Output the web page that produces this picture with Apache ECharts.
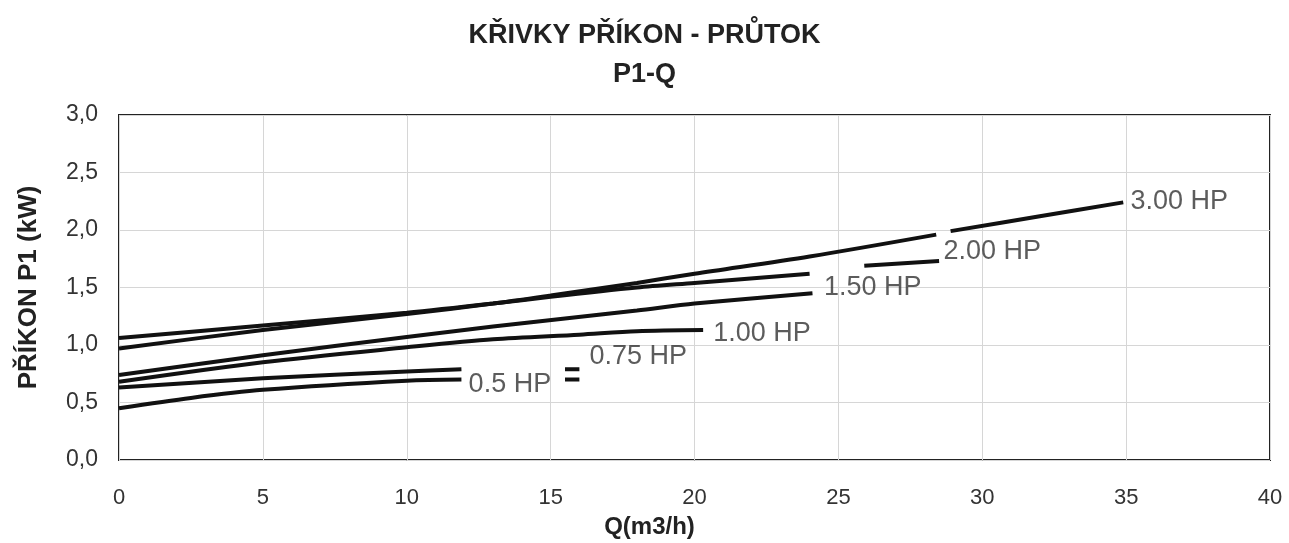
<!DOCTYPE html>
<html>
<head>
<meta charset="utf-8">
<title>P1-Q</title>
<script src="https://cdn.jsdelivr.net/npm/echarts@6/dist/echarts.min.js"></script>
<style>
  html, body { margin: 0; padding: 0; background: #fff; }
  #chart { width: 1289px; height: 543px; }
</style>
</head>
<body>
<div id="chart"></div>
<script>
// curves: [Q m3/h, P1 kW], '-' = gap behind a label
const hp300 = [[0, 0.97], [5, 1.13], [10, 1.27], [13, 1.36], [15, 1.43], [18, 1.54], [20, 1.62], [24, 1.77], [28.4, 1.96], [28.6, '-'], [28.9, 1.99], [32, 2.12], [34.9, 2.24]];
const hp200 = [[0, 1.06], [5, 1.17], [10, 1.28], [13, 1.36], [15, 1.42], [18, 1.50], [20, 1.54], [24, 1.62], [25, '-'], [25.9, 1.69], [28.5, 1.73]];
const hp150 = [[0, 0.74], [5, 0.91], [10, 1.07], [13, 1.16], [18, 1.30], [20, 1.36], [24.1, 1.45]];
const hp100 = [[0, 0.68], [5, 0.85], [10, 0.98], [13, 1.05], [16, 1.09], [18, 1.12], [20.3, 1.13]];
const hp075 = [[0, 0.63], [5, 0.71], [10, 0.77], [11.9, 0.79], [13, '-'], [15.5, 0.79], [16, 0.79]];
const hp050 = [[0, 0.45], [2.5, 0.54], [5, 0.61], [10, 0.69], [11.9, 0.70], [13, '-'], [15.5, 0.70], [16, 0.70]];

// curve labels
const labelText = ['3.00 HP', '2.00 HP', '1.50 HP', '1.00 HP', '0.75 HP', '0.5 HP'];
const labelQ = [35.15, 28.65, 24.5, 20.65, 16.35, 12.15];
const labelP = [2.25, 1.81, 1.50, 1.10, 0.90, 0.66];

const titleMain = 'KŘIVKY PŘÍKON - PRŮTOK';
const titleSub = 'P1-Q';
const xName = 'Q(m3/h)';
const yName = 'PŘÍKON P1 (kW)';

const chart = echarts.init(document.getElementById('chart'));

const curve = (name, data) => ({
  name: name,
  type: 'line',
  data: data,
  smooth: 0.3,
  showSymbol: false,
  connectNulls: false,
  lineStyle: { color: '#111', width: 4 },
  z: 3
});

const font = "'Liberation Sans', Arial, sans-serif";

chart.setOption({
  animation: false,
  backgroundColor: '#fff',
  title: [
    { text: titleMain, left: 'center', top: 17, textStyle: { fontFamily: font, fontSize: 27, fontWeight: 'bold', color: '#222' } },
    { text: titleSub, left: 'center', top: 56, textStyle: { fontFamily: font, fontSize: 27, fontWeight: 'bold', color: '#222' } }
  ],
  grid: {
    left: 119, right: 19, top: 115, bottom: 83,
    outerBoundsMode: 'none',
    show: true, borderColor: '#222', borderWidth: 2
  },
  xAxis: {
    type: 'value',
    min: 0, max: 40, interval: 5,
    name: xName,
    nameLocation: 'middle',
    nameGap: 55,
    nameTextStyle: { fontFamily: font, fontSize: 24, fontWeight: 'bold', color: '#222', padding: [0, 90, 0, 0] },
    axisLine: { show: false },
    axisTick: { show: false },
    axisLabel: { margin: 27, fontFamily: font, fontSize: 22, color: '#333' },
    splitLine: { show: true, lineStyle: { color: '#d6d6d6', width: 1 } }
  },
  yAxis: {
    type: 'value',
    min: 0, max: 3, interval: 0.5,
    name: yName,
    nameLocation: 'middle',
    nameGap: 77,
    nameTextStyle: { fontFamily: font, fontSize: 26, fontWeight: 'bold', color: '#222' },
    axisLine: { show: false },
    axisTick: { show: false },
    axisLabel: {
      margin: 21,
      fontFamily: font, fontSize: 23, color: '#333',
      formatter: v => v.toFixed(1).replace('.', ',')
    },
    splitLine: { show: true, lineStyle: { color: '#d6d6d6', width: 1 } }
  },
  series: [
    curve('3.00 HP', hp300),
    curve('2.00 HP', hp200),
    curve('1.50 HP', hp150),
    curve('1.00 HP', hp100),
    curve('0.75 HP', hp075),
    curve('0.5 HP', hp050),
    {
      name: 'labels',
      type: 'scatter',
      symbolSize: 0,
      silent: true,
      data: labelText.map((t, i) => ({ value: [labelQ[i], labelP[i]], name: t })),
      label: {
        show: true,
        position: 'right',
        distance: 0,
        formatter: p => p.name,
        fontFamily: font,
        fontSize: 27,
        color: '#333'
      },
      z: 4
    }
  ]
});
</script>
</body>
</html>
